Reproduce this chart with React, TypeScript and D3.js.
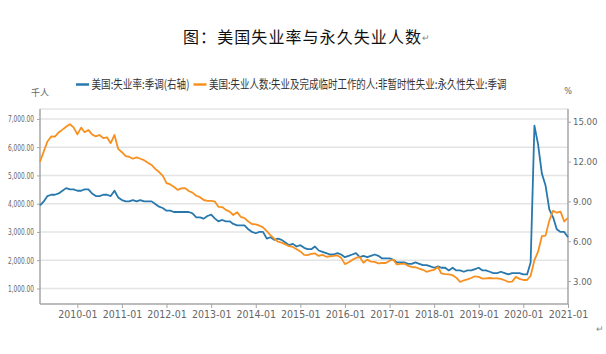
import React, { useEffect, useRef } from 'react';
import * as d3 from 'd3';

// monthly, 2009-03 .. 2021-01
const startMonth = new Date(2009, 2, 1);
const endMonth = new Date(2021, 0, 1);

// 美国:失业率:季调 (%), right axis
const unemploymentRate = [
  8.7, 9.0, 9.4, 9.5, 9.5, 9.6, 9.8, 10.0, 9.9, 9.9,
  9.8, 9.8, 9.9, 9.9, 9.6, 9.4, 9.4, 9.5, 9.5, 9.4, 9.8, 9.3,
  9.1, 9.0, 9.0, 9.1, 9.0, 9.1, 9.0, 9.0, 9.0, 8.8, 8.6, 8.5,
  8.3, 8.3, 8.2, 8.2, 8.2, 8.2, 8.2, 8.1, 7.8, 7.8, 7.7, 7.9,
  8.0, 7.7, 7.5, 7.6, 7.5, 7.5, 7.3, 7.2, 7.2, 7.2, 6.9, 6.7,
  6.6, 6.7, 6.7, 6.2, 6.3, 6.1, 6.2, 6.1, 5.9, 5.7, 5.8, 5.6,
  5.7, 5.5, 5.4, 5.4, 5.6, 5.3, 5.2, 5.1, 5.0, 5.0, 5.1, 5.0,
  4.8, 4.9, 5.0, 5.1, 4.8, 4.9, 4.8, 4.9, 5.0, 4.9, 4.7, 4.7,
  4.7, 4.6, 4.4, 4.4, 4.4, 4.3, 4.3, 4.4, 4.3, 4.2, 4.2, 4.1,
  4.0, 4.1, 4.0, 4.0, 3.8, 4.0, 3.8, 3.8, 3.7, 3.8, 3.8, 3.9,
  4.0, 3.8, 3.8, 3.7, 3.6, 3.6, 3.7, 3.6, 3.5, 3.6, 3.6, 3.6,
  3.5, 3.5, 4.4, 14.7, 13.3, 11.1, 10.2, 8.4, 7.8, 6.9, 6.7, 6.7,
  6.3,
];

// 永久性失业 (千人), left axis
const permanentLosers = [
  5490, 5850, 6200, 6380, 6370, 6520, 6620, 6720, 6810, 6700,
  6450, 6690, 6530, 6610, 6450, 6380, 6430, 6320, 6350, 6140, 6430, 5940,
  5820, 5680, 5660, 5590, 5640, 5590, 5540, 5450, 5370, 5230, 5120, 4990,
  4730, 4680, 4600, 4490, 4540, 4550, 4450, 4390, 4280, 4230, 4130, 4100,
  4100, 4070, 3890, 3880, 3780, 3720, 3600, 3700, 3530, 3490, 3370, 3280,
  3270, 3220, 3160, 3030, 2890, 2760, 2660, 2620, 2560, 2500, 2470, 2390,
  2310, 2190, 2180, 2220, 2240, 2150, 2190, 2120, 2140, 2150, 2170, 2090,
  1860, 1930, 2010, 2080, 2110, 1910, 2020, 1950, 1940, 1890, 1900, 1900,
  1980, 2020, 1850, 1870, 1880, 1800, 1760, 1750, 1700, 1660, 1590, 1630,
  1660, 1760, 1530, 1510, 1500, 1470, 1380, 1230, 1290, 1320, 1370, 1430,
  1410, 1350, 1360, 1370, 1360, 1360, 1340, 1290, 1230, 1240, 1410, 1340,
  1300, 1300, 1450, 2000, 2300, 2850, 2870, 3400, 3750, 3680, 3720, 3370,
  3500,
];

const xTickLabels = ['2010-01', '2011-01', '2012-01', '2013-01', '2014-01', '2015-01',
  '2016-01', '2017-01', '2018-01', '2019-01', '2020-01', '2021-01'];
const leftTicks = [1000, 2000, 3000, 4000, 5000, 6000, 7000];
const rightTicks = [3, 6, 9, 12, 15];

const blue = '#2878ad';
const orange = '#f8901f';
const numFont = '"Liberation Sans Narrow", "DejaVu Sans Condensed", sans-serif';
const cjkFont = '"Noto Sans CJK SC", sans-serif';

const App = () => {
  const svgRef = useRef(null);

  useEffect(() => {
    const width = 606;
    const height = 354;
    const left = 40, right = 568, top = 109, bottom = 304;

    const svg = d3.select(svgRef.current);
    svg.selectAll('*').remove();
    svg.attr('width', width).attr('height', height);

    const months = d3.timeMonth.range(startMonth, d3.timeMonth.offset(endMonth, 1));

    const x = d3.scaleTime().domain([startMonth, endMonth]).range([left, right]);
    const yLeft = d3.scaleLinear().domain([450, 7350]).range([bottom, top]);
    const yRight = d3.scaleLinear().domain([1.27, 15.96]).range([bottom, top]);

    // title
    svg.append('text')
      .attr('x', 183).attr('y', 43)
      .attr('font-family', cjkFont).attr('font-size', 16)
      .attr('fill', '#111')
      .attr('textLength', 238).attr('lengthAdjust', 'spacing')
      .text('图：美国失业率与永久失业人数');
    svg.append('text')
      .attr('x', 422).attr('y', 41)
      .attr('font-family', cjkFont).attr('font-size', 9).attr('fill', '#888')
      .text('↵');

    // legend: condensed text squeezed to the widths seen in the source
    const legend = svg.append('g').attr('font-family', cjkFont).attr('font-size', 12).attr('fill', '#333');
    const legendItems = [
      { color: blue, x: 76, w: 98, label: '美国:失业率:季调(右轴)' },
      { color: orange, x: 193.5, w: 298, label: '美国:失业人数:失业及完成临时工作的人:非暂时性失业:永久性失业:季调' },
    ];
    legendItems.forEach(item => {
      legend.append('line').attr('x1', item.x).attr('x2', item.x + 13).attr('y1', 84.5).attr('y2', 84.5)
        .attr('stroke', item.color).attr('stroke-width', 2.5);
      const t = legend.append('text').text(item.label);
      const natural = t.node().getComputedTextLength() || item.w;
      t.attr('transform', `translate(${item.x + 15.5},88.5) scale(${item.w / natural},1)`);
    });

    // axis units
    svg.append('text').attr('x', 40).attr('y', 96).attr('text-anchor', 'middle')
      .attr('font-family', cjkFont).attr('font-size', 9).attr('fill', '#666').text('千人');
    svg.append('text').attr('x', 568).attr('y', 94).attr('text-anchor', 'middle')
      .attr('font-family', numFont).attr('font-size', 9).attr('fill', '#666').text('%');

    // gridlines
    svg.append('g').selectAll('line')
      .data([...leftTicks, yLeft.domain()[1]])
      .enter().append('line')
      .attr('x1', left).attr('x2', right)
      .attr('y1', d => yLeft(d)).attr('y2', d => yLeft(d))
      .attr('stroke', '#e4e4e4').attr('stroke-width', 1.5);

    // left axis
    const leftAxis = svg.append('g')
      .attr('transform', `translate(${left},0)`)
      .call(d3.axisLeft(yLeft).tickValues(leftTicks).tickSize(3).tickPadding(3)
        .tickFormat(d3.format(',.2f')));
    // right axis
    const rightAxis = svg.append('g')
      .attr('transform', `translate(${right},0)`)
      .call(d3.axisRight(yRight).tickValues(rightTicks).tickSize(3).tickPadding(2)
        .tickFormat(d3.format('.2f')));
    // bottom axis
    const xTickDates = xTickLabels.map(s => d3.timeParse('%Y-%m')(s));
    const bottomAxis = svg.append('g')
      .attr('transform', `translate(0,${bottom})`)
      .call(d3.axisBottom(x).tickValues(xTickDates).tickSize(4).tickPadding(3)
        .tickFormat(d3.timeFormat('%Y-%m')));

    [leftAxis, rightAxis, bottomAxis].forEach(g => {
      g.select('.domain').attr('stroke', '#a6a6a6').attr('stroke-width', 1.5);
      g.selectAll('.tick line').attr('stroke', '#a6a6a6');
      g.selectAll('.tick text').attr('fill', '#666').attr('font-family', numFont);
    });
    leftAxis.selectAll('.tick text').attr('font-size', 9.5)
      .attr('textLength', 26).attr('lengthAdjust', 'spacingAndGlyphs');
    rightAxis.selectAll('.tick text').attr('font-size', 9.5);
    bottomAxis.selectAll('.tick text').attr('font-size', 10.5);
    leftAxis.select('.domain').attr('d', `M0,${top}V${bottom}`);
    rightAxis.select('.domain').attr('d', `M0,${top}V${bottom}`);
    bottomAxis.select('.domain').attr('d', `M${left},0H${right}`);

    // lines
    const rateLine = d3.line()
      .x((d, i) => x(months[i]))
      .y(d => yRight(d));
    const loserLine = d3.line()
      .x((d, i) => x(months[i]))
      .y(d => yLeft(d));

    svg.append('path').datum(unemploymentRate)
      .attr('d', rateLine).attr('fill', 'none')
      .attr('stroke', blue).attr('stroke-width', 1.8).attr('stroke-linejoin', 'round');
    svg.append('path').datum(permanentLosers)
      .attr('d', loserLine).attr('fill', 'none')
      .attr('stroke', orange).attr('stroke-width', 1.8).attr('stroke-linejoin', 'round');

    // paragraph mark
    svg.append('text').attr('x', 596).attr('y', 332)
      .attr('font-family', cjkFont).attr('font-size', 9).attr('fill', '#888').text('↵');
  }, []);

  return <svg ref={svgRef} style={{ display: 'block', position: 'absolute', left: 0, top: 0 }}></svg>;
};

export default App;
